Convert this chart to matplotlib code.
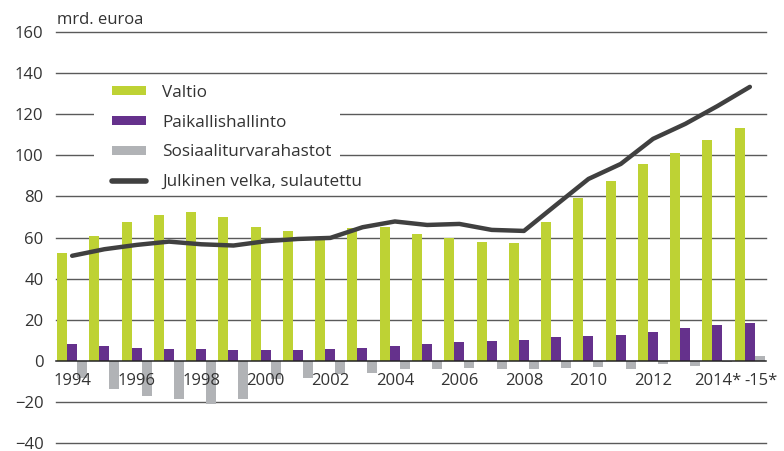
import numpy as np
import matplotlib
matplotlib.use('Agg')
import matplotlib.pyplot as plt
from matplotlib.patches import Rectangle, Patch
from matplotlib.lines import Line2D

plt.rcParams['font.family'] = ['Open Sans', 'DejaVu Sans']

years = list(range(1994, 2016))
valtio = [52.7, 60.9, 67.6, 71.0, 72.5, 70.2, 65.3, 63.2, 59.2, 64.7, 65.3,
          61.8, 59.8, 57.9, 57.4, 67.6, 79.3, 87.5, 95.8, 101.2, 107.5, 113.3]
paikallis = [8.3, 7.3, 6.3, 5.8, 5.8, 5.4, 5.4, 5.4, 5.8, 6.3, 7.3,
             8.3, 9.2, 9.7, 10.2, 11.7, 12.2, 12.6, 14.1, 16.0, 17.5, 18.5]
sosiaali = [-8.5, -13.5, -16.9, -18.8, -21.2, -18.8, -9.0, -8.6, -6.2, -5.7, -4.2,
            -4.2, -3.3, -3.8, -3.8, -3.3, -2.8, -4.2, -1.8, -2.3, -0.8, 2.1]
velka = [51.1, 54.3, 56.4, 58.0, 56.7, 56.1, 58.2, 59.3, 59.8, 65.0, 67.8,
         66.1, 66.6, 63.7, 63.2, 75.9, 88.5, 95.8, 108.0, 115.3, 124.0, 133.3]
xlabels = ['1994', '1996', '1998', '2000', '2002', '2004', '2006', '2008',
           '2010', '2012', '2014*', '-15*']
yticks = [-40, -20, 0, 20, 40, 60, 80, 100, 120, 140, 160]

c_green = '#bed234'
c_purple = '#65318c'
c_gray = '#b1b3b6'
c_line = '#404040'
c_text = '#333333'

fig = plt.figure(figsize=(7.84, 4.51), dpi=100)
ax = fig.add_axes([56/784, 1 - 443/451, (766-56)/784, (443-32)/451])

x = np.arange(len(years))
w = 0.31
ax.bar(x + 0.03, valtio, w, align='edge', color=c_green, zorder=1.2)
ax.bar(x + 0.34, paikallis, w, align='edge', color=c_purple, zorder=1.2)
ax.bar(x + 0.65, sosiaali, w, align='edge', color=c_gray, zorder=1.2)
ax.plot(x + 0.5, velka, color=c_line, lw=3.2, solid_capstyle='round',
        solid_joinstyle='round', zorder=3)

for v in yticks:
    if v == 0:
        ax.axhline(v, color='#222222', lw=1.1, zorder=1.3, clip_on=False)
    else:
        ax.axhline(v, color='#5a5a5a', lw=1.0, zorder=0.5, clip_on=False)

ax.set_xlim(0, len(years))
ax.set_ylim(-40, 160)
ax.set_yticks(yticks)
ax.set_yticklabels([str(v).replace('-', '\u2212') for v in yticks])

xt = [i + 0.5 for i in range(0, 21, 2)] + [21.85]
ax.set_xticks(xt)
ax.set_xticklabels(xlabels)
ax.set_axisbelow(False)
ax.spines['bottom'].set_position(('data', 0))
for s in ax.spines.values():
    s.set_visible(False)
ax.tick_params(axis='both', length=0, labelsize=12, colors=c_text)
ax.tick_params(axis='y', pad=9)
ax.tick_params(axis='x', pad=9)

# white box behind legend hides the grid lines there
fig.patches.append(Rectangle((94/784, 1 - 194/451), (340-94)/784, (194-78)/451,
                             transform=fig.transFigure, facecolor='white',
                             edgecolor='none', zorder=1))

handles = [Patch(facecolor=c_green), Patch(facecolor=c_purple), Patch(facecolor=c_gray),
           Line2D([], [], color=c_line, lw=4, solid_capstyle='round')]
labels = ['Valtio', 'Paikallishallinto', 'Sosiaaliturvarahastot',
          'Julkinen velka, sulautettu']
leg = fig.legend(handles, labels, loc='upper left', bbox_to_anchor=(112/784, 1 - 85/451),
                 frameon=False, fontsize=12.3, handlelength=2.0, handleheight=0.42,
                 handletextpad=0.95, labelspacing=0.8, borderpad=0, borderaxespad=0)
leg.set_zorder(2)
for t in leg.get_texts():
    t.set_color(c_text)

fig.text(57/784, 1 - 24.5/451, 'mrd. euroa', fontsize=12, color=c_text, va='baseline')

fig.savefig('out.png', dpi=100)
